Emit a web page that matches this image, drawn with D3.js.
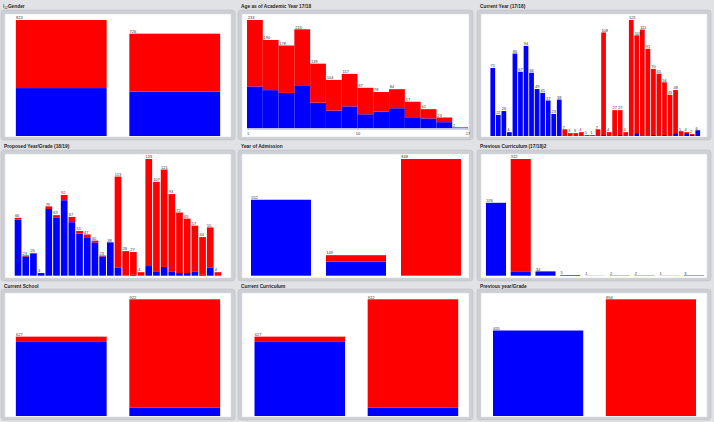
<!DOCTYPE html>
<html>
<head>
<meta charset="utf-8">
<script src="https://cdn.jsdelivr.net/npm/d3@7"></script>
<style>
  html, body { margin: 0; padding: 0; background: #e1e2e5; }
  svg { display: block; font-family: "Liberation Sans", Arial, sans-serif; }
</style>
</head>
<body>
<svg id="chart" width="714" height="422"></svg>
<script>
'use strict';

const BLUE = '#0000ff';
const RED  = '#ff0000';

// ── Data (blue = lower segment, red = upper segment) ───────────────────────
const genderBlue = [340, 315];
const genderRed  = [483, 411];

const ageTicks = ['1', '10', '17'];
const ageBlue  = [90, 82, 76, 91, 55, 38, 47, 30, 36, 43, 22, 21, 13, 1];
const ageRed   = [143, 108, 102, 122, 84, 66, 70, 57, 42, 41, 35, 20, 10, 1];

const curYearBlue = [71, 22, 26, 4, 86, 67, 94, 66, 49, 45, 37, 23, 38,
                     0, 0, 0, 0, 0, 0, 0, 1, 0, 0, 1, 0,
                     0, 3, 0, 0, 1, 0, 1, 0, 3, 0, 3, 1, 6];
const curYearRed  = [0, 0, 0, 0, 0, 0, 0, 0, 0, 0, 0, 0, 0,
                     7, 3, 3, 4, 1, 1, 7, 107, 4, 27, 26, 4,
                     121, 102, 111, 91, 69, 65, 55, 43, 45, 5, 1, 1, 0];

const propBlue = [64, 22, 25, 3, 76, 66, 86, 61, 48, 43, 38, 22, 38,
                  9, 0, 1, 0, 11, 5, 10, 5, 3, 3, 5, 1, 9, 0];
const propRed  = [2, 1, 1, 0, 3, 3, 6, 6, 3, 4, 2, 1, 0,
                  104, 28, 26, 4, 122, 102, 111, 88, 69, 62, 52, 43, 46, 4];

const admissionBlue = [552, 103, 0];
const admissionRed  = [0, 46, 848];

const prevCurrBlue = [576, 30, 34, 5, 1, 2, 2, 1, 3];
const prevCurrRed  = [0, 892, 0, 0, 0, 0, 0, 0, 0];

const schoolBlue = [590, 65];
const schoolRed  = [37, 857];

const curricBlue = [590, 65];
const curricRed  = [37, 857];

const prevGradeBlue = [655, 0];
const prevGradeRed  = [0, 894];

// ── Layout ─────────────────────────────────────────────────────────────────
const COLS = [[1, 235], [238, 473], [477, 711]];
const ROWS = [
  { title: 8.4,   y0: 10,  y1: 140, top: 20,    base: 136 },
  { title: 148.4, y0: 150, y1: 281, top: 159,   base: 275.7 },
  { title: 288,   y0: 289, y1: 420, top: 299.3, base: 416 },
];

const panels = [
  { title: 'Gender', col: 0, row: 0, blue: genderBlue, red: genderRed, xr: [4.5, 231.5], pad: 0.2, icon: true },
  { title: 'Age as of Academic Year 17/18', col: 1, row: 0, blue: ageBlue, red: ageRed, xr: [247, 468], pad: 0, base: 128.2, axis: ageTicks },
  { title: 'Current Year (17/18)', col: 2, row: 0, blue: curYearBlue, red: curYearRed, xr: [490, 700.5], pad: 0.15 },
  { title: 'Proposed Year/Grade (18/19)', col: 0, row: 1, blue: propBlue, red: propRed, xr: [14.2, 221.8], pad: 0.13 },
  { title: 'Year of Admission', col: 1, row: 1, blue: admissionBlue, red: admissionRed, xr: [243.5, 468.5], pad: 0.2 },
  { title: 'Previous Curriculum (17/18)2', col: 2, row: 1, blue: prevCurrBlue, red: prevCurrRed, xr: [483.6, 706.4], pad: 0.19 },
  { title: 'Current School', col: 0, row: 2, blue: schoolBlue, red: schoolRed, xr: [4.5, 231.5], pad: 0.2 },
  { title: 'Current Curriculum', col: 1, row: 2, blue: curricBlue, red: curricRed, xr: [243.2, 469.5], pad: 0.2 },
  { title: 'Previous year/Grade', col: 2, row: 2, blue: prevGradeBlue, red: prevGradeRed, xr: [481.7, 707.3], pad: 0.2 },
];

const svg = d3.select('#chart');

panels.forEach(drawPanel);

// ── Panel ──────────────────────────────────────────────────────────────────
function drawPanel(p) {
  const [fx0, fx1] = COLS[p.col];
  const R = ROWS[p.row];
  const g = svg.append('g');

  // frame + white plot area
  g.append('rect')
    .attr('x', fx0).attr('y', R.y0)
    .attr('width', fx1 - fx0).attr('height', R.y1 - R.y0)
    .attr('rx', 3)
    .attr('fill', '#cdcfd4')
    .attr('stroke', '#bfc1c7').attr('stroke-width', 0.6);
  g.append('rect')
    .attr('x', fx0 + 4).attr('y', R.y0 + 4)
    .attr('width', fx1 - fx0 - 8).attr('height', R.y1 - R.y0 - 7)
    .attr('fill', '#ffffff')
    .attr('stroke', '#d8dae0').attr('stroke-width', 0.5);

  // title
  const t = g.append('text')
    .attr('x', p.icon ? fx0 + 2 : fx0 + 3)
    .attr('y', R.title)
    .attr('font-size', '4.8px')
    .attr('font-weight', 700)
    .attr('fill', '#1e1e1e');
  if (p.icon) {
    t.append('tspan').attr('font-weight', 400).text('I');
    t.append('tspan').attr('font-size', '3.2px').attr('dy', 1).attr('font-weight', 400).text('12');
    t.append('tspan').attr('dy', -1).text(p.title);
  } else {
    t.text(p.title);
  }

  const base = p.base || R.base;
  const rows = p.blue.map((b, i) => ({ i, blue: b, red: p.red[i] }));
  const totals = rows.map(d => d.blue + d.red);

  const x = d3.scaleBand()
    .domain(rows.map(d => d.i))
    .range(p.xr)
    .paddingInner(p.pad)
    .paddingOuter(p.pad / 2);

  const y = d3.scaleLinear()
    .domain([0, d3.max(totals)])
    .range([base, R.top]);

  const series = d3.stack().keys(['blue', 'red'])(rows);

  g.selectAll('.layer')
    .data(series)
    .join('g')
    .attr('fill', d => d.key === 'blue' ? BLUE : RED)
    .selectAll('rect')
    .data(d => d.filter(s => s[1] > s[0]))
    .join('rect')
    .attr('x', d => x(d.data.i))
    .attr('y', d => y(d[1]))
    .attr('width', x.bandwidth())
    .attr('height', d => y(d[0]) - y(d[1]));

  // value labels
  g.selectAll('.lbl')
    .data(rows)
    .join('text')
    .attr('x', d => x(d.i) + (p.pad === 0 ? 0.8 : 0.2))
    .attr('y', d => y(d.blue + d.red) - 0.7)
    .attr('font-size', '4px')
    .attr('fill', '#333')
    .text(d => d.blue + d.red);

  if (p.axis) {
    const ax = d3.scalePoint().domain(p.axis).range([p.xr[0] + 0.5, p.xr[1] - 0.5]);
    const a = g.append('g')
      .attr('transform', `translate(0,${base + 0.4})`)
      .call(d3.axisBottom(ax).tickSize(1.6).tickSizeOuter(0).tickPadding(1.5));
    a.select('.domain').attr('stroke', '#9aa2bd').attr('stroke-width', 0.7);
    a.selectAll('.tick line').attr('stroke', '#777').attr('stroke-width', 0.4);
    a.selectAll('.tick text').attr('font-size', '4px').attr('fill', '#333')
      .attr('font-family', '"Liberation Sans", Arial, sans-serif');
  }
}
</script>
</body>
</html>
